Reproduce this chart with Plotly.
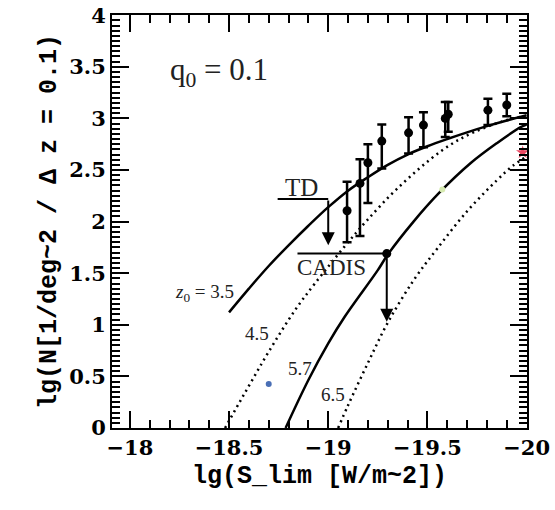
import plotly.graph_objects as go

# ---- data ----
# model curves (z0 labels)
z35_x = [-18.5, -18.6, -18.7, -18.8, -18.9, -19.0, -19.1, -19.2, -19.3, -19.4, -19.5, -19.6, -19.7, -19.8, -19.9, -20.0]
z35_y = [1.12, 1.35, 1.57, 1.77, 1.96, 2.14, 2.30, 2.43, 2.55, 2.65, 2.73, 2.80, 2.865, 2.925, 2.98, 3.03]

z45_x = [-18.48, -18.55, -18.617, -18.70, -18.833, -18.933, -19.083, -19.19, -19.35, -19.575, -19.735, -19.935, -20.0]
z45_y = [0.0, 0.239, 0.465, 0.739, 1.143, 1.401, 1.76, 2.0, 2.324, 2.692, 2.867, 3.002, 3.02]

z57_x = [-18.785, -18.90, -19.0, -19.083, -19.25, -19.30, -19.43, -19.56, -19.72, -19.85, -19.97, -20.0]
z57_y = [0.0, 0.465, 0.82, 1.078, 1.53, 1.68, 2.0, 2.28, 2.57, 2.76, 2.915, 2.94]

z65_x = [-19.05, -19.10, -19.20, -19.30, -19.43, -19.55, -19.70, -19.85, -19.93, -20.0]
z65_y = [0.0, 0.22, 0.63, 1.02, 1.43, 1.74, 2.10, 2.40, 2.54, 2.63]

# measured points with error bars
obs_x = [-19.095, -19.16, -19.20, -19.27, -19.405, -19.48, -19.59, -19.605, -19.805, -19.90]
obs_y = [2.105, 2.37, 2.57, 2.78, 2.86, 2.935, 3.00, 3.04, 3.08, 3.13]
obs_up = [0.28, 0.235, 0.18, 0.16, 0.15, 0.125, 0.16, 0.12, 0.11, 0.11]
obs_dn = [0.305, 0.51, 0.39, 0.265, 0.20, 0.215, 0.18, 0.17, 0.145, 0.11]

# upper limits: TD and CADIS
td_line_x = [-18.745, -19.0]
td_y = 2.22
td_tip = 1.77
cadis_line_x = [-18.845, -19.295]
cadis_y = 1.69
cadis_tip = 1.03

# coloured single points
blue_pt = (-18.70, 0.426)
green_pt = (-19.575, 2.31)
red_pt = (-19.98, 2.67)

# axis ranges
x_range = [-17.91, -20.002]
y_range = [0, 4.002]

fig = go.Figure()

line_w = 2.5
fig.add_trace(go.Scatter(x=z35_x, y=z35_y, mode="lines", line=dict(color="black", width=line_w, shape="spline"), showlegend=False))
fig.add_trace(go.Scatter(x=z45_x, y=z45_y, mode="lines", line=dict(color="black", width=line_w, dash="2px,4px", shape="spline"), showlegend=False))
fig.add_trace(go.Scatter(x=z57_x, y=z57_y, mode="lines", line=dict(color="black", width=line_w, shape="spline"), showlegend=False))
fig.add_trace(go.Scatter(x=z65_x, y=z65_y, mode="lines", line=dict(color="black", width=line_w, dash="2px,4px", shape="spline"), showlegend=False))

fig.add_trace(go.Scatter(
    x=obs_x, y=obs_y, mode="markers",
    marker=dict(color="black", size=9),
    error_y=dict(type="data", symmetric=False, array=obs_up, arrayminus=obs_dn,
                 color="black", thickness=2.5, width=4.5),
    showlegend=False))

fig.add_trace(go.Scatter(x=td_line_x, y=[td_y, td_y], mode="lines", line=dict(color="black", width=2), showlegend=False))
fig.add_trace(go.Scatter(x=cadis_line_x, y=[cadis_y, cadis_y], mode="lines", line=dict(color="black", width=2), showlegend=False))
fig.add_trace(go.Scatter(x=[cadis_line_x[1]], y=[cadis_y], mode="markers", marker=dict(color="black", size=9), showlegend=False))

fig.add_trace(go.Scatter(x=[blue_pt[0]], y=[blue_pt[1]], mode="markers", marker=dict(color="#4a6fb5", size=6), showlegend=False))
fig.add_trace(go.Scatter(x=[green_pt[0]], y=[green_pt[1]], mode="markers", marker=dict(color="#d6eab0", size=6), showlegend=False))
fig.add_trace(go.Scatter(x=[red_pt[0]], y=[red_pt[1]], mode="markers", marker=dict(color="#ec4a64", size=10, symbol="star"), showlegend=False))

# arrows for upper limits
for ax_x, y0, y1 in [(td_line_x[1], td_y, td_tip), (cadis_line_x[1], cadis_y, cadis_tip)]:
    fig.add_annotation(x=ax_x, y=y1, ax=ax_x, ay=y0, xref="x", yref="y", axref="x", ayref="y",
                       showarrow=True, arrowhead=2, arrowsize=1.3, arrowwidth=2, arrowcolor="black", text="")

serif = "Liberation Serif"
labels = [
    ("q<sub>0</sub> = 0.1", -18.45, 3.45, 31),
    ("<i>z</i><sub>0</sub> = 3.5", -18.375, 1.31, 19),
    ("4.5", -18.64, 0.92, 19),
    ("5.7", -18.86, 0.58, 19),
    ("6.5", -19.025, 0.32, 19),
    ("TD", -18.865, 2.33, 25),
    ("CADIS", -19.015, 1.56, 23),
]
for t, x, y, s in labels:
    fig.add_annotation(x=x, y=y, xref="x", yref="y", text=t, showarrow=False,
                       font=dict(family=serif, size=s, color="#222"))

tick_font = dict(family="DejaVu Serif", size=21, color="black")
title_font = dict(family="Liberation Mono", size=25, color="black")

fig.update_xaxes(
    range=x_range, tickmode="linear", tick0=-18, dtick=0.5,
    ticks="inside", ticklen=17, tickwidth=2, tickcolor="black",
    minor=dict(ticks="inside", ticklen=8, tickwidth=2, tickcolor="black", dtick=0.1),
    showline=True, linewidth=2, linecolor="black", mirror="ticks", layer="above traces",
    showgrid=False, zeroline=False, tickfont=tick_font, automargin=False,
    tickprefix="<b>", ticksuffix="</b>", ticklabeloverflow="allow",
    title=dict(text="<b>lg(S_lim [W/m~2])</b>", font=title_font, standoff=6),
)
fig.update_yaxes(
    range=y_range, tickmode="linear", tick0=0, dtick=0.5,
    ticks="inside", ticklen=17, tickwidth=2, tickcolor="black",
    minor=dict(ticks="inside", ticklen=8, tickwidth=2, tickcolor="black", dtick=0.05),
    showline=True, linewidth=2, linecolor="black", mirror="ticks", layer="above traces",
    showgrid=False, zeroline=False, tickfont=tick_font, automargin=False,
    tickprefix="<b>", ticksuffix="</b>", ticklabeloverflow="allow",
    title=dict(text="<b>lg(N[1/deg~2 / Δ z = 0.1)</b>", font=title_font, standoff=6),
)

fig.update_layout(
    width=555, height=510,
    margin=dict(l=112, r=28, t=15, b=82),
    paper_bgcolor="white", plot_bgcolor="rgba(0,0,0,0)",
    template="none",
)

# remove the page's default 8px body margin so the figure starts at the window corner
fig.write_html("out.html", post_script="document.body.style.margin='0';",
               config={"displayModeBar": False})
